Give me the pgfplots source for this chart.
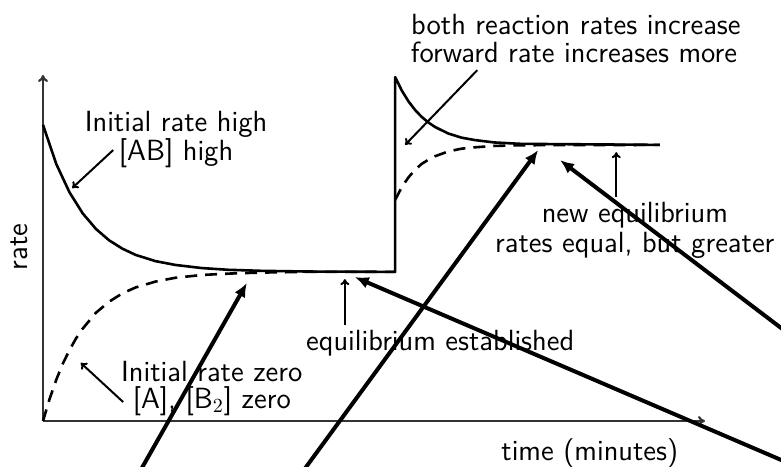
\documentclass[border=0pt]{standalone}
\usepackage{pgfplots}
\pgfplotsset{compat=1.18}
\usetikzlibrary{arrows.meta}

\begin{document}
\begin{tikzpicture}[font=\fontsize{14.6}{14.6}\selectfont\sffamily]
\useasboundingbox (-21.5pt,-22.5pt) rectangle (369pt,210.5pt);
\clip (-21.5pt,-22.5pt) rectangle (369pt,210.5pt);
\begin{axis}[
  at={(0,0)}, anchor=origin,
  scale only axis,
  width=331pt, height=173pt,
  xmin=0, xmax=100, ymin=0, ymax=100,
  axis lines=left,
  axis line style={black!80, line width=1.1pt, -{To[length=3.5pt,width=5pt]}},
  ticks=none,
  clip=false
]
% forward reaction (solid)
\addplot[black, line width=1.3pt, line join=round] coordinates {
  (0,85.6) (2,74.3) (4,66.1) (6,60.0) (8,55.5) (10,52.2) (12,49.8)
  (14,48.0) (17,46.2) (20,45.1) (24,44.2) (28,43.7) (33,43.4) (40,43.2)
  (53.2,43.1) (53.2,99.4)
  (54.2,95.5) (55.2,92.4) (56.2,89.9) (57.2,87.9) (58.2,86.3) (59.2,85.0)
  (61.2,83.1) (63.2,81.9) (65.2,81.2) (68.2,80.5) (72.2,80.1) (93.2,79.8)
};
% reverse reaction (dashed)
\addplot[black, line width=1.3pt, dash pattern=on 6pt off 4pt] coordinates {
  (0,0) (1,6.4) (2,11.9) (3,16.6) (4,20.5) (5,23.9) (6,26.7) (8,31.3)
  (10,34.5) (12,36.9) (14,38.6) (17,40.3) (20,41.4) (24,42.2) (28,42.6)
  (33,42.9) (40,43.1) (53.2,43.1)
};
\addplot[black, line width=1.3pt, dash pattern=on 6pt off 4pt] coordinates {
  (53.2,63.9) (54.2,67.6) (55.2,70.4) (56.2,72.6) (57.2,74.3) (58.2,75.5)
  (59.2,76.5) (61.2,77.9) (63.2,78.7) (65.2,79.1) (68.2,79.5) (72.2,79.7)
  (93.2,79.8)
};

% labels
\node[anchor=base] at (axis cs:80.5,111.6) {both reaction rates increase};
\node[anchor=base] at (axis cs:80.2,103.5) {forward rate increases more};
\node[anchor=base] at (axis cs:20.1,83.8) {Initial rate high};
\node[anchor=base] at (axis cs:20.1,75.4) {[AB] high};
\node[anchor=base] at (axis cs:89.4,57.5) {new equilibrium};
\node[anchor=base] at (axis cs:89.4,48.8) {rates equal, but greater};
\node[anchor=base] at (axis cs:60.0,20.5) {equilibrium established};
\node[anchor=base] at (axis cs:25.5,11.5) {Initial rate zero};
\node[anchor=base] at (axis cs:25.5,3.6) {[A], [B$_2$] zero};
\node[anchor=base] at (axis cs:82.6,-11.3) {time (minutes)};
\node[anchor=base, rotate=90] at (axis cs:-2.4,50.3) {rate};

% small arrows
\begin{scope}[line width=1pt, -{To[length=3pt,width=4.5pt]}]
\draw (axis cs:10.6,78.3) -- (axis cs:4.4,67.3);
\draw (axis cs:12.1,5.5) -- (axis cs:5.7,16.8);
\draw (axis cs:45.6,27.7) -- (axis cs:45.6,41.0);
\draw (axis cs:65.6,101.4) -- (axis cs:54.7,79.8);
\draw (axis cs:86.6,64.7) -- (axis cs:86.6,77.7);
\end{scope}

% thick arrows
\begin{scope}[line width=2pt, -{Latex[length=7pt,width=6pt]}]
\draw (axis cs:12.2,-22.8) -- (axis cs:30.8,39.9);
\draw (axis cs:36.1,-22.8) -- (axis cs:74.8,78.3);
\draw (axis cs:117.4,-16.1) -- (axis cs:47.1,41.6);
\draw (axis cs:117.4,18.3) -- (axis cs:78.1,75.4);
\end{scope}
\end{axis}
\end{tikzpicture}
\end{document}
